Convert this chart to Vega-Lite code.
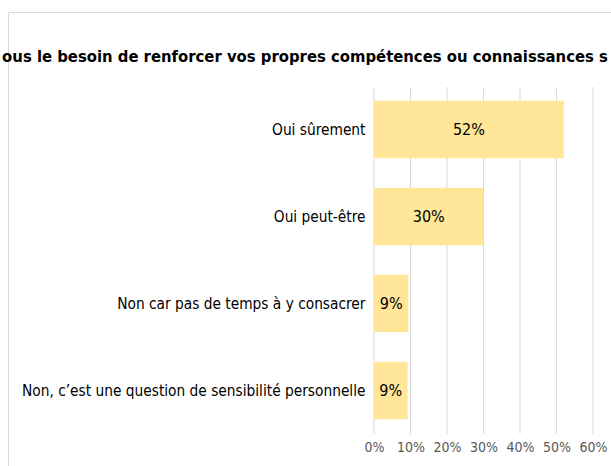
{
  "$schema": "https://vega.github.io/schema/vega-lite/v6.json",
  "width": 620,
  "height": 470,
  "autosize": "none",
  "padding": {"left": 8, "top": 12, "right": 0, "bottom": 0},
  "background": "white",
  "config": {
    "view": {"stroke": "#d9d9d9", "strokeWidth": 1},
    "font": "DejaVu Sans Condensed"
  },
  "title": {
    "text": "ous le besoin de renforcer vos propres compétences ou connaissances s",
    "frame": "group",
    "anchor": "middle",
    "dx": -13,
    "offset": -53,
    "font": "DejaVu Sans Condensed",
    "fontSize": 16.5,
    "fontWeight": "bold",
    "color": "#000000"
  },
  "resolve": {"scale": {"y": "independent"}},
  "layer": [
    {
      "data": {"values": [{"t": 0}, {"t": 0.1}, {"t": 0.2}, {"t": 0.3}, {"t": 0.4}, {"t": 0.5}, {"t": 0.6}]},
      "mark": {"type": "rule", "color": "#d9d9d9", "strokeWidth": 1},
      "encoding": {
        "x": {
          "field": "t", "type": "quantitative",
          "scale": {"domain": [0, 0.6], "range": [366, 585], "nice": false, "zero": false},
          "axis": {"orient": "bottom", "offset": -48, "values": [0, 0.1, 0.2, 0.3, 0.4, 0.5, 0.6], "format": ".0%", "grid": false, "domain": false, "ticks": false, "title": null, "labelPadding": 6, "labelFontSize": 14, "labelFlush": false, "labelOverlap": false, "labelColor": "#595959", "labelFont": "DejaVu Sans Condensed"}
        },
        "y": {"datum": 0, "type": "quantitative", "scale": {"domain": [0, 1], "range": [75, 422], "nice": false, "zero": false}, "axis": null},
        "y2": {"datum": 1}
      }
    },
    {
      "data": {"name": "main"},
      "mark": {"type": "bar", "color": "#FFE699"},
      "encoding": {
        "y": {
          "field": "categorie", "type": "nominal", "sort": null,
          "scale": {"range": [74, 422], "paddingInner": 0.34, "paddingOuter": 0.17},
          "axis": {"orient": "left", "offset": -366, "domain": false, "ticks": false, "title": null, "labelPadding": 9, "labelFontSize": 15.3, "labelColor": "#000000", "labelFont": "DejaVu Sans Condensed", "labelLimit": 500}
        },
        "x": {
          "field": "value", "type": "quantitative",
          "scale": {"domain": [0, 0.6], "range": [366, 585], "nice": false, "zero": false}
        }
      }
    },
    {
      "data": {"name": "main"},
      "transform": [{"calculate": "datum.value / 2", "as": "mid"}],
      "mark": {"type": "text", "fontSize": 16, "color": "#000000", "font": "DejaVu Sans Condensed", "baseline": "middle", "align": "center"},
      "encoding": {
        "y": {
          "field": "categorie", "type": "nominal", "sort": null,
          "scale": {"range": [74, 422], "paddingInner": 0.34, "paddingOuter": 0.17},
          "axis": null
        },
        "x": {"field": "mid", "type": "quantitative", "scale": {"domain": [0, 0.6], "range": [366, 585], "nice": false, "zero": false}},
        "text": {"field": "value", "type": "quantitative", "format": ".0%"}
      }
    }
  ],
  "datasets": {
    "main": [
      {"categorie": "Oui sûrement", "value": 0.52},
      {"categorie": "Oui peut-être", "value": 0.30},
      {"categorie": "Non car pas de temps à y consacrer", "value": 0.094},
      {"categorie": "Non, c’est une question de sensibilité personnelle", "value": 0.092}
    ]
  }
}
